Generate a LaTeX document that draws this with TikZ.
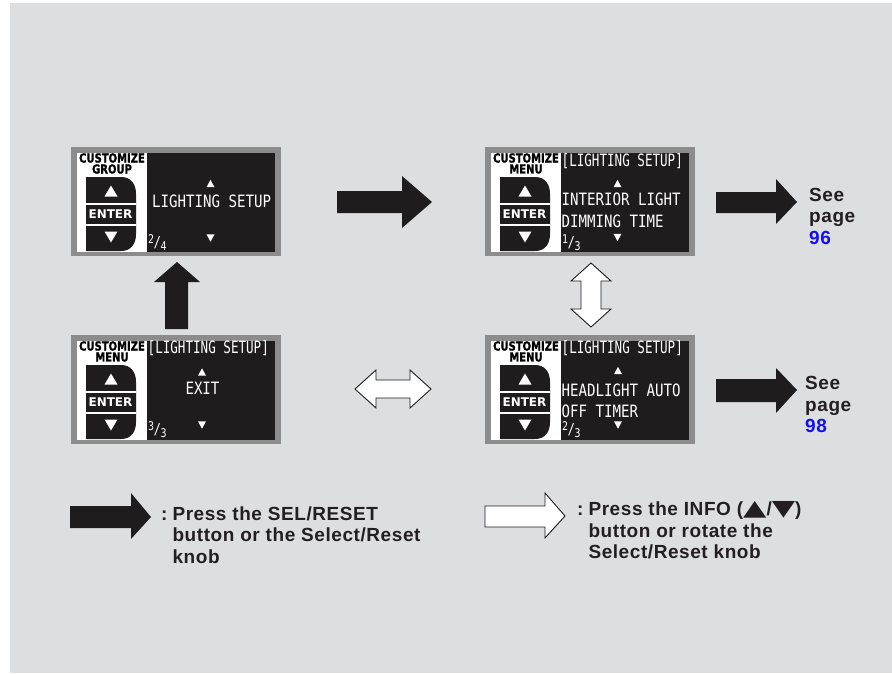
\documentclass[tikz,border=0pt]{standalone}
\usepackage{fontspec}
\setmainfont{Liberation Sans}
\newfontfamily\lcdfont[FakeStretch=0.83]{DejaVu Sans Mono}
\newfontfamily\lcdheadfont[FakeStretch=0.74]{DejaVu Sans Mono}
\newfontfamily\lcdboldfont[FakeStretch=0.8,FakeBold=1.2]{DejaVu Sans}
\newfontfamily\enterfont{DejaVu Sans}
\newfontfamily\lblfont[LetterSpace=3]{Liberation Sans}
\definecolor{bgray}{HTML}{DDDEE0}
\definecolor{framegray}{HTML}{8C8C8C}
\definecolor{lcdblack}{HTML}{1E1C1D}
\definecolor{txtdark}{HTML}{231F20}
\definecolor{pageblue}{HTML}{1010F0}
\newcommand\tup[5]{\fill[#5] ({#1-#3},{#2+#4}) -- ({#1+#3},{#2+#4}) -- (#1,{#2-#4}) -- cycle;}
\newcommand\tdown[5]{\fill[#5] ({#1-#3},{#2-#4}) -- ({#1+#3},{#2-#4}) -- (#1,{#2+#4}) -- cycle;}
\newcommand\lcdfrac[2]{\raisebox{4pt}{\fontsize{12}{13}\selectfont #1}\kern-0.5pt{\fontsize{15}{16}\selectfont /}\kern-0.5pt\raisebox{-3pt}{\fontsize{12}{13}\selectfont #2}}
\newcommand\legtri[1]{{\enterfont\scalebox{1.6}[1.15]{#1}}}
\newcommand\lcdscreen[4]{%
\begin{scope}[shift={(#2,#3)}]
\node[lcdframe] (#1) at (0,0) {};
\fill[white] (6,6) rectangle (76,105);
\fill[lcdblack] (76,6) rectangle (204,105);
\fill[lcdblack] (15,30) -- (50,30) .. controls (60,30) and (65,37) .. (65,47) -- (65,87) .. controls (65,97) and (60,104) .. (50,104) -- (15,104) -- cycle;
\draw[white, line width=1.4pt] (15,57) -- (65,57) (15,78) -- (65,78);
\node[custtxt] (#1c) at (41,11) {CUSTOMIZE};
\node[custtxt] (#1g) at (41,22) {#4};
\node[entertxt] (#1e) at (39.5,67.5) {ENTER};
\tup{40}{44}{6.5}{5.5}{white}
\tdown{40}{90}{6.5}{5.5}{white}
\end{scope}}
\begin{document}
\begin{tikzpicture}[x=1pt,y=-1pt,
 lcdframe/.style={fill=framegray, minimum width=210pt, minimum height=109pt, inner sep=0pt, outer sep=0pt, anchor=north west},
 custtxt/.style={font=\lcdboldfont\bfseries\fontsize{12.5}{13}\selectfont, text=black, inner sep=0pt},
 entertxt/.style={font=\enterfont\bfseries\fontsize{12}{13}\selectfont, text=white, inner sep=0pt},
 lcdtxt/.style={font=\lcdfont\fontsize{17}{18}\selectfont, text=white, inner sep=0pt},
 lcdhead/.style={font=\lcdheadfont\fontsize{17}{18}\selectfont, text=white, inner sep=0pt, anchor=west},
 fractxt/.style={font=\lcdfont, text=white, inner sep=0pt, anchor=west},
 lbl/.style={font=\lblfont\bfseries\fontsize{19}{21.5}\selectfont, text=txtdark, align=left, inner sep=0pt, anchor=west},
 lbltab/.style={font=\lblfont\bfseries\fontsize{19}{21.5}\selectfont, text=txtdark, inner sep=0pt, anchor=west},
 blackarrow/.style={fill=lcdblack},
 whitearrow/.style={fill=white, draw=lcdblack, line width=0.9pt, line join=miter}
]
\useasboundingbox (0,0) rectangle (892,673);
\fill[bgray] (10,3) rectangle (892,673);

% screen 1
\lcdscreen{s1}{71}{147}{GROUP}
\begin{scope}[shift={(71,147)}]
\tup{139.5}{36.5}{4}{3.7}{white}
\node[lcdtxt] (s1t) at (140.7,54.7) {LIGHTING SETUP};
\tdown{139.5}{91}{4}{3.7}{white}
\node[fractxt] (s1f) at (77,96) {\lcdfrac{2}{4}};
\end{scope}

% screen 2
\lcdscreen{s2}{485}{147}{MENU}
\begin{scope}[shift={(485,147)}]
\node[lcdhead] (s2h) at (76.5,13.7) {[LIGHTING SETUP]};
\tup{132.5}{36.5}{4}{3.7}{white}
\node[lcdtxt, anchor=west] (s2a) at (76.5,52.7) {INTERIOR LIGHT};
\node[lcdtxt, anchor=west] (s2b) at (76.5,74.2) {DIMMING TIME};
\tdown{132.5}{90.5}{4}{3.7}{white}
\node[fractxt] (s2f) at (77,96) {\lcdfrac{1}{3}};
\end{scope}

% screen 3
\lcdscreen{s3}{71}{335}{MENU}
\begin{scope}[shift={(71,335)}]
\node[lcdhead] (s3h) at (76.5,13.5) {[LIGHTING SETUP]};
\tup{131}{37}{4}{3.7}{white}
\node[lcdtxt] (s3t) at (131.5,53.3) {EXIT};
\tdown{131}{90}{4}{3.7}{white}
\node[fractxt] (s3f) at (77,95) {\lcdfrac{3}{3}};
\end{scope}

% screen 4
\lcdscreen{s4}{485}{335}{MENU}
\begin{scope}[shift={(485,335)}]
\node[lcdhead] (s4h) at (76.5,13.5) {[LIGHTING SETUP]};
\tup{133}{35.5}{4}{3.7}{white}
\node[lcdtxt, anchor=west] (s4a) at (76.5,55.3) {HEADLIGHT AUTO};
\node[lcdtxt, anchor=west] (s4b) at (76.5,76.3) {OFF TIMER};
\tdown{133}{90}{4}{3.7}{white}
\node[fractxt] (s4f) at (77,95) {\lcdfrac{2}{3}};
\end{scope}

% black block arrows
\fill[blackarrow] (337,191) -- (402,191) -- (402,176) -- (432,202) -- (402,228) -- (402,213) -- (337,213) -- cycle;
\fill[blackarrow] (165,329) -- (165,282) -- (154,282) -- (177,262) -- (200,282) -- (188,282) -- (188,329) -- cycle;
\fill[blackarrow] (716,192) -- (776,192) -- (776,179) -- (797,202) -- (776,224) -- (776,213) -- (716,213) -- cycle;
\fill[blackarrow] (716,379) -- (776,379) -- (776,368) -- (797,390) -- (776,413) -- (776,402) -- (716,402) -- cycle;

% white double arrows
\draw[whitearrow] (355,389) -- (376,370) -- (376,380) -- (410,380) -- (410,370) -- (431,389) -- (410,408) -- (410,398) -- (376,398) -- (376,408) -- cycle;
\draw[whitearrow] (591,263) -- (611,281) -- (601,281) -- (601,309) -- (611,309) -- (591,327) -- (571,309) -- (581,309) -- (581,281) -- (571,281) -- cycle;

% page references
\node[lbl] (p96) at (809,216) {See\\page\\{\color{pageblue}96}};
\node[lbl] (p98) at (805,404.5) {See\\page\\{\color{pageblue}98}};

% legend
\fill[blackarrow] (70,506) -- (131,506) -- (131,493) -- (151,517) -- (131,539) -- (131,528) -- (70,528) -- cycle;
\node[lbltab] (leg1) at (161,537.2) {\begin{tabular}{@{}l@{\hspace{5pt}}l@{}}:&Press the SEL/RESET\\&button or the Select/Reset\\&knob\end{tabular}};
\draw[whitearrow] (485,506) -- (545,506) -- (545,493) -- (565,516) -- (545,538) -- (545,527) -- (485,527) -- cycle;
\node[lbltab] (leg2) at (577,533) {\begin{tabular}{@{}l@{\hspace{5pt}}l@{}}:&Press the INFO (\legtri{▲}/\legtri{▼})\\&button or rotate the\\&Select/Reset knob\end{tabular}};
\end{tikzpicture}
\end{document}
